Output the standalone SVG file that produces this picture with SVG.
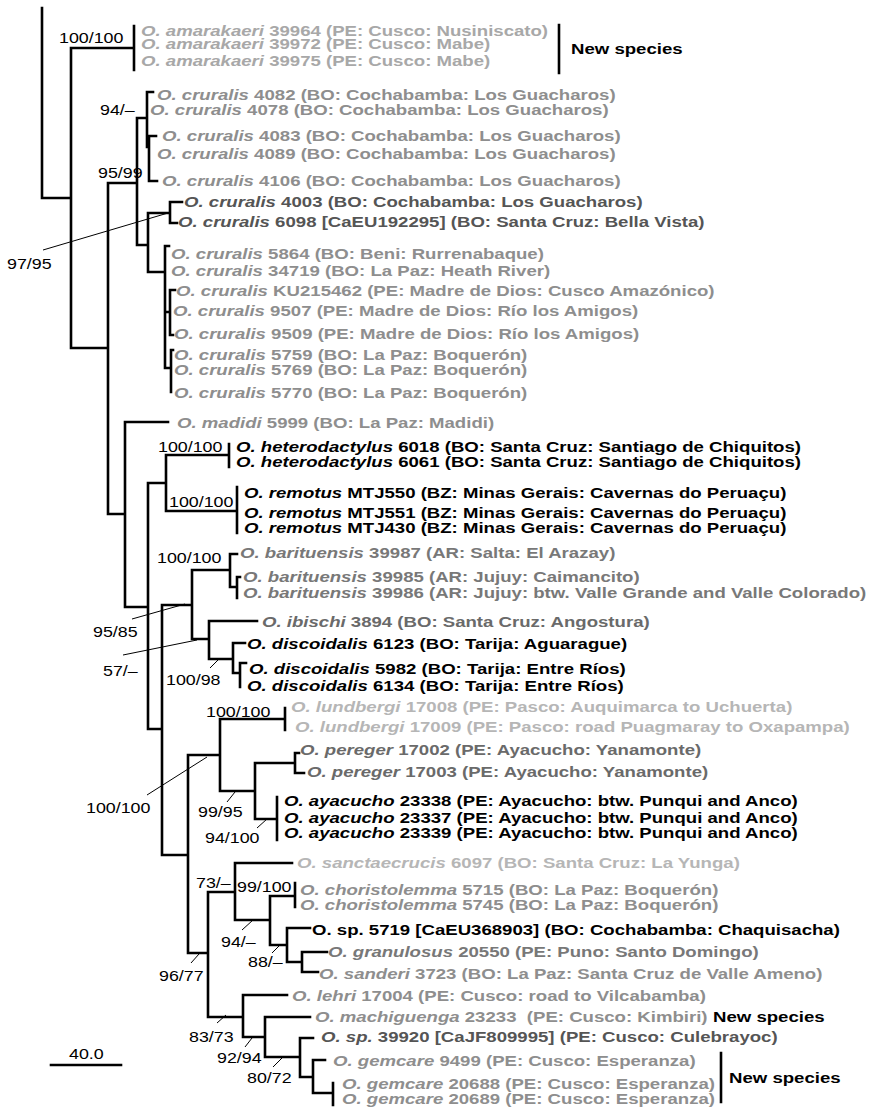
<svg xmlns="http://www.w3.org/2000/svg" width="871" height="1107" viewBox="0 0 871 1107">
<style>
text{font-family:"Liberation Sans",Arial,sans-serif}
.t{font-size:15.5px;font-weight:bold}
.s{font-size:15px}
.i{font-style:italic}
.br{fill:none;stroke:#000;stroke-width:2.6;stroke-linecap:square}
.ld{fill:none;stroke:#000;stroke-width:1}
.g1{fill:#a8a8a8}.g2{fill:#8e8e8e}.g3{fill:#787878}.g4{fill:#555}.g5{fill:#000}.gL{fill:#b6b6b6}.g6{fill:#6a6a6a}
</style>
<g id="connectors">
<path class="br" d="M42,8V198H71 M71,48V348 M71,48H134 M134,26V70
M71,348H108 M108,183V514 M108,183H137 M137,118V245 M137,118H147 M147,92V147 M147,92H153 M147,147H149 M149,136V181 M149,136H156 M149,181H157
M137,245H148 M148,213V272 M148,213H170 M170,202V223 M170,202H182 M170,223H177
M148,272H165 M165,246V368 M165,246H169 M165,312H170 M170,290V335 M170,290H175 M170,335H173 M165,368H171 M171,350V392 M171,350H173
M108,514H125 M125,422V607 M125,422H168 M125,607H148 M148,483V729
M148,483H166 M166,455V511 M166,455H229 M229,444V467 M166,511H237 M237,487V533
M148,729H162 M162,605V855 M162,605H192 M192,570V639 M192,570H230 M230,554V587 M230,554H237 M230,587H237 M237,577V598 M237,577H240
M192,639H209 M209,621V659 M209,621H257 M209,659H233 M233,643V673 M233,643H245 M233,673H240 M240,663V687 M240,663H246
M162,855H188 M188,755V953 M188,755H220 M220,719V791 M220,719H285 M285,708V730
M220,791H255 M255,763V819 M255,763H295 M295,753V773 M295,753H299 M295,773H304 M255,819H277 M277,797V840
M188,953H208 M208,892V1017 M208,892H235 M235,863V920 M235,863H292 M235,920H270 M270,896V945 M270,896H295 M295,883V907
M270,945H287 M287,928V962 M287,928H310 M287,962H302 M302,952V972 M302,952H327 M302,972H318
M208,1017H243 M243,995V1037 M243,995H287 M243,1037H265 M265,1017V1057 M265,1017H310 M265,1057H300 M300,1038V1077 M300,1038H313 M300,1077H313
M313,1060V1093 M313,1060H325 M313,1093H333 M333,1083V1105
M559,25V73 M721,1053V1102"/>
<path class="ld" d="M43,250L168,213 M132,619L185,604 M123,655L197,640 M210,668L218,660 M147,795L207,757 M227,802L235,792 M257,828L267,819 M242,930L253,920 M272,953L279,946 M191,963L199,954 M217,1023L226,1015 M245,1047L252,1038 M273,1067L282,1058"/>
<path class="br" d="M51,1065H121"/>
</g>
<g id="support">
<text class="s" transform="translate(59 43) scale(1.19 1)">100/100</text>
<text class="s" transform="translate(100 115) scale(1.19 1)">94/–</text>
<text class="s" transform="translate(98 178) scale(1.19 1)">95/99</text>
<text class="s" transform="translate(7 269) scale(1.19 1)">97/95</text>
<text class="s" transform="translate(158 452) scale(1.19 1)">100/100</text>
<text class="s" transform="translate(169 507) scale(1.19 1)">100/100</text>
<text class="s" transform="translate(157 563) scale(1.19 1)">100/100</text>
<text class="s" transform="translate(93 637) scale(1.19 1)">95/85</text>
<text class="s" transform="translate(103 676) scale(1.19 1)">57/–</text>
<text class="s" transform="translate(166 685) scale(1.19 1)">100/98</text>
<text class="s" transform="translate(206 717) scale(1.19 1)">100/100</text>
<text class="s" transform="translate(86 813) scale(1.19 1)">100/100</text>
<text class="s" transform="translate(198 817) scale(1.19 1)">99/95</text>
<text class="s" transform="translate(205 843) scale(1.19 1)">94/100</text>
<text class="s" transform="translate(196 888) scale(1.19 1)">73/–</text>
<text class="s" transform="translate(237 892) scale(1.19 1)">99/100</text>
<text class="s" transform="translate(221 947) scale(1.19 1)">94/–</text>
<text class="s" transform="translate(248 967) scale(1.19 1)">88/–</text>
<text class="s" transform="translate(159 981) scale(1.19 1)">96/77</text>
<text class="s" transform="translate(189 1042) scale(1.19 1)">83/73</text>
<text class="s" transform="translate(217 1063) scale(1.19 1)">92/94</text>
<text class="s" transform="translate(247 1083) scale(1.19 1)">80/72</text>
</g>
<g id="scale"><text class="s" transform="translate(69 1059) scale(1.19 1)">40.0</text></g>
<g id="t-amarakaeri-39964"><text class="t g1" transform="translate(141 36) scale(1.2 1)"><tspan class="i">O. amarakaeri</tspan> 39964 (PE: Cusco: Nusiniscato)</text></g>
<g id="t-amarakaeri-39972"><text class="t g1" transform="translate(141 49) scale(1.2 1)"><tspan class="i">O. amarakaeri</tspan> 39972 (PE: Cusco: Mabe)</text></g>
<g id="t-amarakaeri-39975"><text class="t g1" transform="translate(141 66) scale(1.2 1)"><tspan class="i">O. amarakaeri</tspan> 39975 (PE: Cusco: Mabe)</text></g>
<g id="new-species-1"><text class="t g5" transform="translate(571 54) scale(1.2 1)">New species</text></g>
<g id="t-cruralis-4082"><text class="t g2" transform="translate(157 100) scale(1.2 1)"><tspan class="i">O. cruralis</tspan> 4082 (BO: Cochabamba: Los Guacharos)</text></g>
<g id="t-cruralis-4078"><text class="t g2" transform="translate(150 115) scale(1.2 1)"><tspan class="i">O. cruralis</tspan> 4078 (BO: Cochabamba: Los Guacharos)</text></g>
<g id="t-cruralis-4083"><text class="t g2" transform="translate(162 141) scale(1.2 1)"><tspan class="i">O. cruralis</tspan> 4083 (BO: Cochabamba: Los Guacharos)</text></g>
<g id="t-cruralis-4089"><text class="t g2" transform="translate(157 159) scale(1.2 1)"><tspan class="i">O. cruralis</tspan> 4089 (BO: Cochabamba: Los Guacharos)</text></g>
<g id="t-cruralis-4106"><text class="t g2" transform="translate(162 186) scale(1.2 1)"><tspan class="i">O. cruralis</tspan> 4106 (BO: Cochabamba: Los Guacharos)</text></g>
<g id="t-cruralis-4003"><text class="t g4" transform="translate(184 207) scale(1.2 1)"><tspan class="i">O. cruralis</tspan> 4003 (BO: Cochabamba: Los Guacharos)</text></g>
<g id="t-cruralis-6098"><text class="t g4" transform="translate(178 227) scale(1.2 1)"><tspan class="i">O. cruralis</tspan> 6098 [CaEU192295] (BO: Santa Cruz: Bella Vista)</text></g>
<g id="t-cruralis-5864"><text class="t g2" transform="translate(171 259) scale(1.2 1)"><tspan class="i">O. cruralis</tspan> 5864 (BO: Beni: Rurrenabaque)</text></g>
<g id="t-cruralis-34719"><text class="t g2" transform="translate(171 276) scale(1.2 1)"><tspan class="i">O. cruralis</tspan> 34719 (BO: La Paz: Heath River)</text></g>
<g id="t-cruralis-KU215462"><text class="t g2" transform="translate(176 296) scale(1.2 1)"><tspan class="i">O. cruralis</tspan> KU215462 (PE: Madre de Dios: Cusco Amazónico)</text></g>
<g id="t-cruralis-9507"><text class="t g2" transform="translate(173 316) scale(1.2 1)"><tspan class="i">O. cruralis</tspan> 9507 (PE: Madre de Dios: Río los Amigos)</text></g>
<g id="t-cruralis-9509"><text class="t g2" transform="translate(174 339) scale(1.2 1)"><tspan class="i">O. cruralis</tspan> 9509 (PE: Madre de Dios: Río los Amigos)</text></g>
<g id="t-cruralis-5759"><text class="t g2" transform="translate(174 360) scale(1.2 1)"><tspan class="i">O. cruralis</tspan> 5759 (BO: La Paz: Boquerón)</text></g>
<g id="t-cruralis-5769"><text class="t g2" transform="translate(174 375) scale(1.2 1)"><tspan class="i">O. cruralis</tspan> 5769 (BO: La Paz: Boquerón)</text></g>
<g id="t-cruralis-5770"><text class="t g2" transform="translate(174 398) scale(1.2 1)"><tspan class="i">O. cruralis</tspan> 5770 (BO: La Paz: Boquerón)</text></g>
<g id="t-madidi-5999"><text class="t g2" transform="translate(177 428) scale(1.2 1)"><tspan class="i">O. madidi</tspan> 5999 (BO: La Paz: Madidi)</text></g>
<g id="t-heterodactylus-6018"><text class="t g5" transform="translate(236 452) scale(1.2 1)"><tspan class="i">O. heterodactylus</tspan> 6018 (BO: Santa Cruz: Santiago de Chiquitos)</text></g>
<g id="t-heterodactylus-6061"><text class="t g5" transform="translate(236 467) scale(1.2 1)"><tspan class="i">O. heterodactylus</tspan> 6061 (BO: Santa Cruz: Santiago de Chiquitos)</text></g>
<g id="t-remotus-MTJ550"><text class="t g5" transform="translate(244 498) scale(1.2 1)"><tspan class="i">O. remotus</tspan> MTJ550 (BZ: Minas Gerais: Cavernas do Peruaçu)</text></g>
<g id="t-remotus-MTJ551"><text class="t g5" transform="translate(244 518) scale(1.2 1)"><tspan class="i">O. remotus</tspan> MTJ551 (BZ: Minas Gerais: Cavernas do Peruaçu)</text></g>
<g id="t-remotus-MTJ430"><text class="t g5" transform="translate(244 533) scale(1.2 1)"><tspan class="i">O. remotus</tspan> MTJ430 (BZ: Minas Gerais: Cavernas do Peruaçu)</text></g>
<g id="t-barituensis-39987"><text class="t g3" transform="translate(240 558) scale(1.2 1)"><tspan class="i">O. barituensis</tspan> 39987 (AR: Salta: El Arazay)</text></g>
<g id="t-barituensis-39985"><text class="t g3" transform="translate(243 582) scale(1.2 1)"><tspan class="i">O. barituensis</tspan> 39985 (AR: Jujuy: Caimancito)</text></g>
<g id="t-barituensis-39986"><text class="t g3" transform="translate(243 598) scale(1.2 1)"><tspan class="i">O. barituensis</tspan> 39986 (AR: Jujuy: btw. Valle Grande and Valle Colorado)</text></g>
<g id="t-ibischi-3894"><text class="t g6" transform="translate(262 627) scale(1.2 1)"><tspan class="i">O. ibischi</tspan> 3894 (BO: Santa Cruz: Angostura)</text></g>
<g id="t-discoidalis-6123"><text class="t g5" transform="translate(247 649) scale(1.2 1)"><tspan class="i">O. discoidalis</tspan> 6123 (BO: Tarija: Aguarague)</text></g>
<g id="t-discoidalis-5982"><text class="t g5" transform="translate(249 674) scale(1.2 1)"><tspan class="i">O. discoidalis</tspan> 5982 (BO: Tarija: Entre Ríos)</text></g>
<g id="t-discoidalis-6134"><text class="t g5" transform="translate(247 691) scale(1.2 1)"><tspan class="i">O. discoidalis</tspan> 6134 (BO: Tarija: Entre Ríos)</text></g>
<g id="t-lundbergi-17008"><text class="t gL" transform="translate(291 712) scale(1.2 1)"><tspan class="i">O. lundbergi</tspan> 17008 (PE: Pasco: Auquimarca to Uchuerta)</text></g>
<g id="t-lundbergi-17009"><text class="t gL" transform="translate(295 732) scale(1.2 1)"><tspan class="i">O. lundbergi</tspan> 17009 (PE: Pasco: road Puagmaray to Oxapampa)</text></g>
<g id="t-pereger-17002"><text class="t g6" transform="translate(300 755) scale(1.2 1)"><tspan class="i">O. pereger</tspan> 17002 (PE: Ayacucho: Yanamonte)</text></g>
<g id="t-pereger-17003"><text class="t g6" transform="translate(307 777) scale(1.2 1)"><tspan class="i">O. pereger</tspan> 17003 (PE: Ayacucho: Yanamonte)</text></g>
<g id="t-ayacucho-23338"><text class="t g5" transform="translate(284 806) scale(1.2 1)"><tspan class="i">O. ayacucho</tspan> 23338 (PE: Ayacucho: btw. Punqui and Anco)</text></g>
<g id="t-ayacucho-23337"><text class="t g5" transform="translate(284 823) scale(1.2 1)"><tspan class="i">O. ayacucho</tspan> 23337 (PE: Ayacucho: btw. Punqui and Anco)</text></g>
<g id="t-ayacucho-23339"><text class="t g5" transform="translate(284 838) scale(1.2 1)"><tspan class="i">O. ayacucho</tspan> 23339 (PE: Ayacucho: btw. Punqui and Anco)</text></g>
<g id="t-sanctaecrucis-6097"><text class="t gL" transform="translate(297 868) scale(1.2 1)"><tspan class="i">O. sanctaecrucis</tspan> 6097 (BO: Santa Cruz: La Yunga)</text></g>
<g id="t-choristolemma-5715"><text class="t g2" transform="translate(300 895) scale(1.2 1)"><tspan class="i">O. choristolemma</tspan> 5715 (BO: La Paz: Boquerón)</text></g>
<g id="t-choristolemma-5745"><text class="t g2" transform="translate(300 910) scale(1.2 1)"><tspan class="i">O. choristolemma</tspan> 5745 (BO: La Paz: Boquerón)</text></g>
<g id="t-sp-5719"><text class="t g5" transform="translate(312 935) scale(1.2 1)">O. sp. 5719 [CaEU368903] (BO: Cochabamba: Chaquisacha)</text></g>
<g id="t-granulosus-20550"><text class="t g3" transform="translate(328 957) scale(1.2 1)"><tspan class="i">O. granulosus</tspan> 20550 (PE: Puno: Santo Domingo)</text></g>
<g id="t-sanderi-3723"><text class="t g2" transform="translate(319 979) scale(1.2 1)"><tspan class="i">O. sanderi</tspan> 3723 (BO: La Paz: Santa Cruz de Valle Ameno)</text></g>
<g id="t-lehri-17004"><text class="t g2" transform="translate(292 1001) scale(1.2 1)"><tspan class="i">O. lehri</tspan> 17004 (PE: Cusco: road to Vilcabamba)</text></g>
<g id="t-machiguenga-23233"><text class="t g2" transform="translate(315 1022) scale(1.2 1)"><tspan class="i">O. machiguenga</tspan> 23233&#160; (PE: Cusco: Kimbiri)</text></g>
<g id="new-species-2"><text class="t g5" transform="translate(713 1022) scale(1.2 1)">New species</text></g>
<g id="t-sp-39920"><text class="t g4" transform="translate(321 1042) scale(1.2 1)"><tspan class="i">O. sp.</tspan> 39920 [CaJF809995] (PE: Cusco: Culebrayoc)</text></g>
<g id="t-gemcare-9499"><text class="t g2" transform="translate(333 1066) scale(1.2 1)"><tspan class="i">O. gemcare</tspan> 9499 (PE: Cusco: Esperanza)</text></g>
<g id="t-gemcare-20688"><text class="t g2" transform="translate(342 1089) scale(1.2 1)"><tspan class="i">O. gemcare</tspan> 20688 (PE: Cusco: Esperanza)</text></g>
<g id="t-gemcare-20689"><text class="t g2" transform="translate(342 1104) scale(1.2 1)"><tspan class="i">O. gemcare</tspan> 20689 (PE: Cusco: Esperanza)</text></g>
<g id="new-species-3"><text class="t g5" transform="translate(729 1083) scale(1.2 1)">New species</text></g>
</svg>
